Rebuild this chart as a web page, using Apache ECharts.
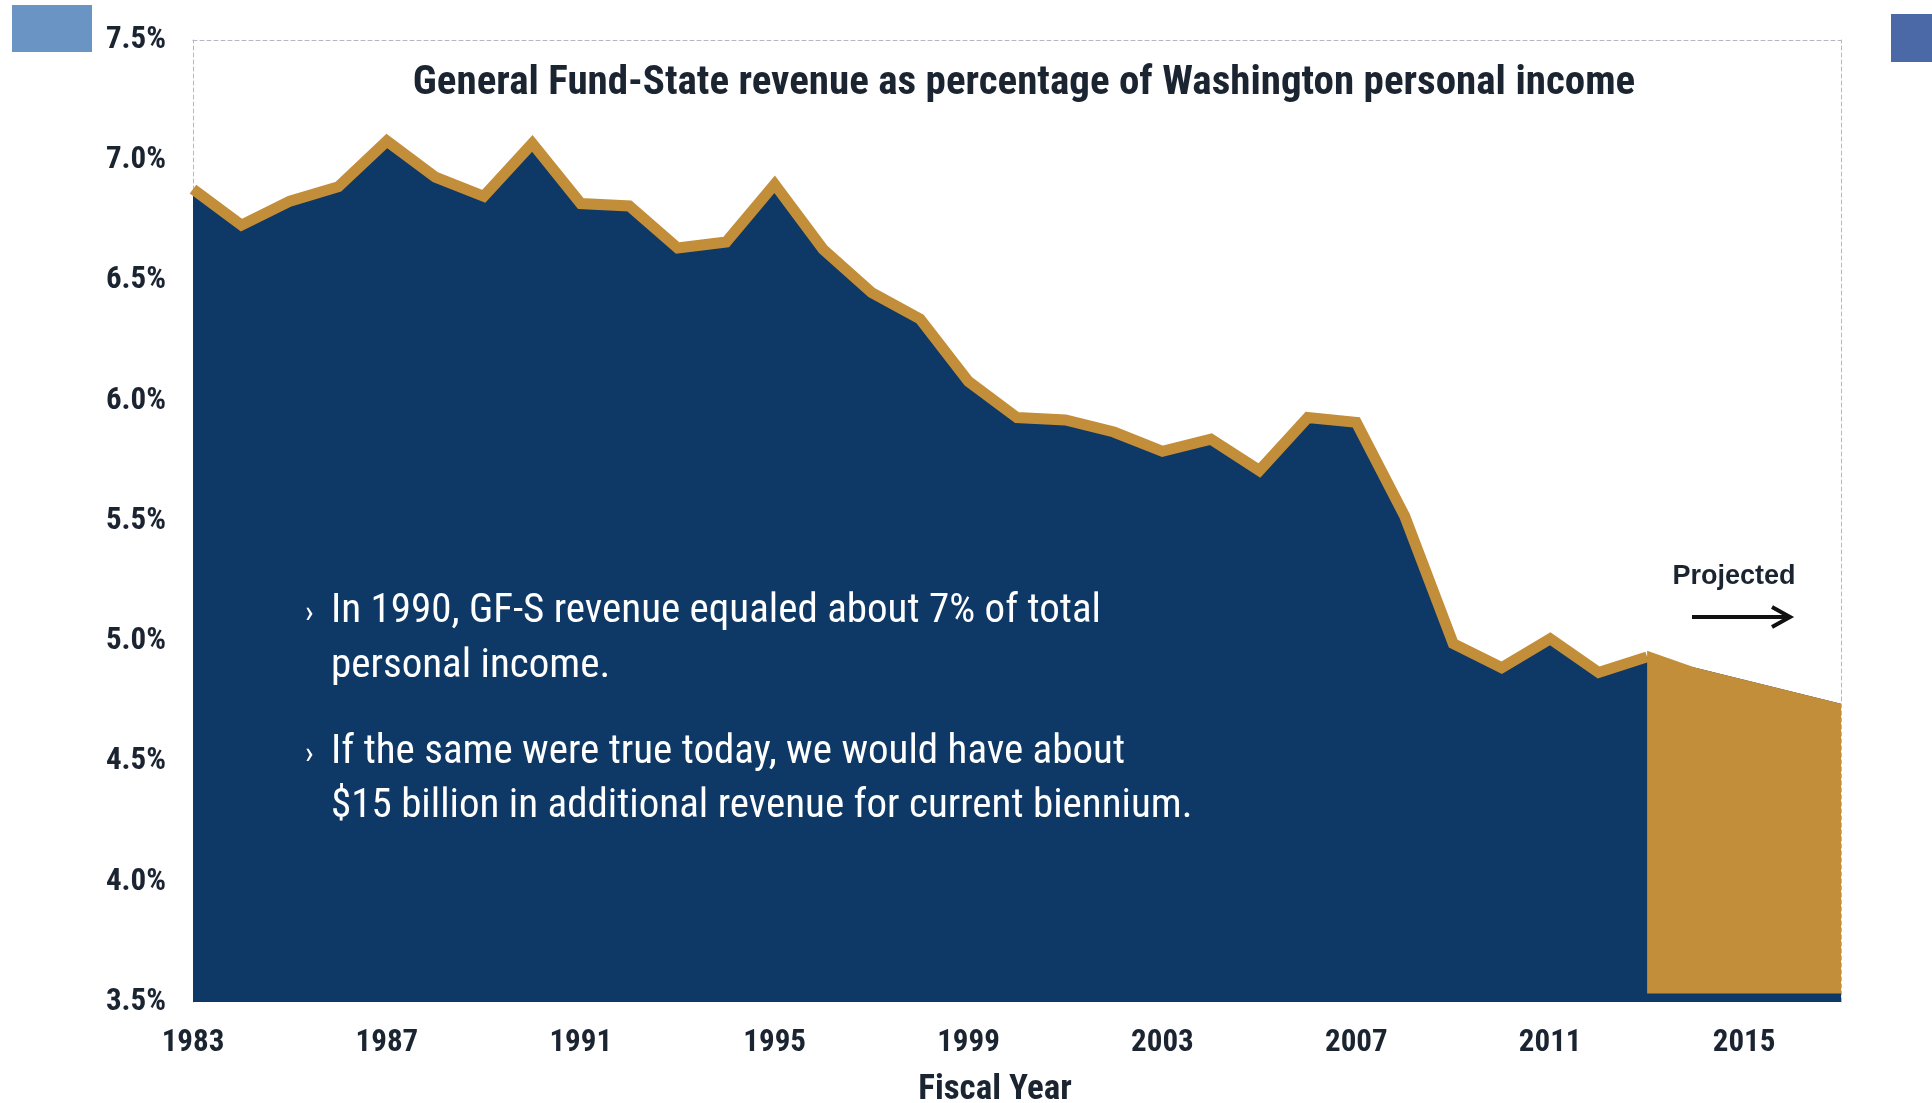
<!DOCTYPE html>
<html>
<head>
<meta charset="utf-8">
<title>General Fund-State revenue as percentage of Washington personal income</title>
<script src="https://cdn.jsdelivr.net/npm/echarts@6/dist/echarts.min.js"></script>
<style>
  html, body { margin: 0; padding: 0; background: #ffffff; }
  #chart { width: 1932px; height: 1103px; }
</style>
</head>
<body>
<div id="chart"></div>
<script>
// Fiscal years shown on the axis
const years = [
  '1983','1984','1985','1986','1987','1988','1989','1990','1991','1992',
  '1993','1994','1995','1996','1997','1998','1999','2000','2001','2002',
  '2003','2004','2005','2006','2007','2008','2009','2010','2011','2012',
  '2013','2014','2015','2016','2017'
];

// GF-S revenue as % of personal income, actuals FY1983–FY2013
const actualShare = [
  6.88, 6.73, 6.83, 6.89, 7.08, 6.93, 6.85, 7.07, 6.82, 6.81,
  6.635, 6.66, 6.90, 6.63, 6.45, 6.34, 6.08, 5.93, 5.92, 5.87,
  5.79, 5.84, 5.71, 5.93, 5.91, 5.52, 4.99, 4.89, 5.01, 4.87,
  4.935
];

// Forecast FY2013–FY2017
const projectedYears = ['2013','2014','2015','2016','2017'];
const projectedShare = [4.96, 4.89, 4.84, 4.79, 4.74];

// Y-axis range (percent)
const yMin = 3.5, yMax = 7.5, yStep = 0.5;

const NAVY = '#0e3866';
const GOLD = '#c38e39';
const INK = '#1b2431';
const COND = "'Roboto Condensed', 'Liberation Sans Narrow', 'Arial Narrow', sans-serif";
const SANS = "'Liberation Sans', Arial, sans-serif";

// Series aligned to the full year axis
const actualLine = years.map((y, i) => i < actualShare.length ? actualShare[i] : '-');
const projectedArea = years.map(y => {
  const k = projectedYears.indexOf(y);
  return k >= 0 ? projectedShare[k] : '-';
});
// navy fill runs under the whole span, including the forecast years
const navyFill = years.map((y, i) => {
  if (i < actualShare.length) return actualShare[i];
  return projectedShare[projectedYears.indexOf(y)];
});

const chart = echarts.init(document.getElementById('chart'), null, { renderer: 'canvas' });

const dashed = { show: true, lineStyle: { color: '#b4b8c0', width: 1, type: [4, 3] } };

const noteText = (y, text) => ({
  type: 'text', x: 331, y: y, z: 10,
  style: { text: text, fill: '#ffffff', font: "41px " + COND, textVerticalAlign: 'middle' }
});
const noteBullet = (y) => ({
  type: 'text', x: 305, y: y + 2, z: 10,
  style: { text: '\u203A', fill: '#ffffff', font: "32px " + COND, textVerticalAlign: 'middle' }
});

chart.setOption({
  animation: false,
  backgroundColor: '#ffffff',
  grid: { left: 193, right: 91, top: 40, bottom: 101, containLabel: false, outerBoundsMode: 'none' },
  xAxis: [
    {
      type: 'category',
      data: years,
      boundaryGap: false,
      axisLine: { show: false },
      axisTick: { show: false },
      splitLine: { show: false },
      axisLabel: {
        interval: 3,
        margin: 26,
        color: INK,
        fontFamily: COND,
        fontWeight: 'bold',
        fontSize: 31
      },
      name: 'Fiscal Year',
      nameLocation: 'middle',
      nameGap: 71,
      nameTextStyle: {
        color: INK,
        fontFamily: COND,
        fontWeight: 'bold',
        fontSize: 35,
        padding: [0, 44, 0, 0]
      }
    },
    {
      // dashed frame along the top of the plot
      type: 'category',
      data: years,
      boundaryGap: false,
      position: 'top',
      axisLine: dashed,
      axisTick: { show: false },
      axisLabel: { show: false },
      splitLine: { show: false }
    }
  ],
  yAxis: [
    {
      type: 'value',
      min: yMin,
      max: yMax,
      interval: yStep,
      axisLine: dashed,
      axisTick: { show: false },
      splitLine: { show: false },
      axisLabel: {
        margin: 27,
        color: INK,
        fontFamily: COND,
        fontWeight: 'bold',
        fontSize: 31,
        formatter: v => v.toFixed(1) + '%'
      }
    },
    {
      // dashed frame along the right side of the plot
      type: 'value',
      min: yMin,
      max: yMax,
      interval: yStep,
      position: 'right',
      axisLine: dashed,
      axisTick: { show: false },
      axisLabel: { show: false },
      splitLine: { show: false }
    }
  ],
  title: {
    text: 'General Fund-State revenue as percentage of Washington personal income',
    left: 1019,
    top: 58,
    textAlign: 'center',
    textStyle: {
      color: INK,
      fontFamily: COND,
      fontWeight: 'bold',
      fontSize: 41
    }
  },
  series: [
    {
      name: 'Revenue share',
      type: 'line',
      data: navyFill,
      symbol: 'none',
      lineStyle: { width: 0 },
      areaStyle: { color: NAVY, opacity: 1 },
      z: 2,
      silent: true
    },
    {
      name: 'Revenue share (actual)',
      type: 'line',
      data: actualLine,
      symbol: 'none',
      lineStyle: { color: GOLD, width: 11, join: 'miter' },
      z: 3,
      silent: true
    },
    {
      name: 'Projected',
      type: 'line',
      data: projectedArea,
      symbol: 'none',
      lineStyle: { width: 0 },
      areaStyle: { color: GOLD, opacity: 1, origin: 3.535 },
      z: 4,
      silent: true
    }
  ],
  graphic: [
    { type: 'rect', left: 12, top: 5, shape: { width: 80, height: 47 }, style: { fill: '#6a94c3' }, z: 10 },
    { type: 'rect', left: 1891, top: 14, shape: { width: 41, height: 48 }, style: { fill: '#4a69a6' }, z: 10 },
    {
      type: 'text', x: 1734, y: 577, z: 10,
      style: { text: 'Projected', fill: INK, font: "bold 27px " + SANS, textAlign: 'center', textVerticalAlign: 'middle' }
    },
    {
      type: 'line', z: 10,
      shape: { x1: 1692, y1: 617, x2: 1788, y2: 617 },
      style: { stroke: '#111111', lineWidth: 4 }
    },
    {
      type: 'polyline', z: 10,
      shape: { points: [[1772, 607], [1790, 617], [1772, 627]] },
      style: { stroke: '#111111', lineWidth: 4, fill: null }
    },
    noteBullet(612), noteText(612, 'In 1990, GF-S revenue equaled about 7% of total'),
    noteText(667, 'personal income.'),
    noteBullet(753), noteText(753, 'If the same were true today, we would have about'),
    noteText(807, '$15 billion in additional revenue for current biennium.')
  ]
});
</script>
</body>
</html>
